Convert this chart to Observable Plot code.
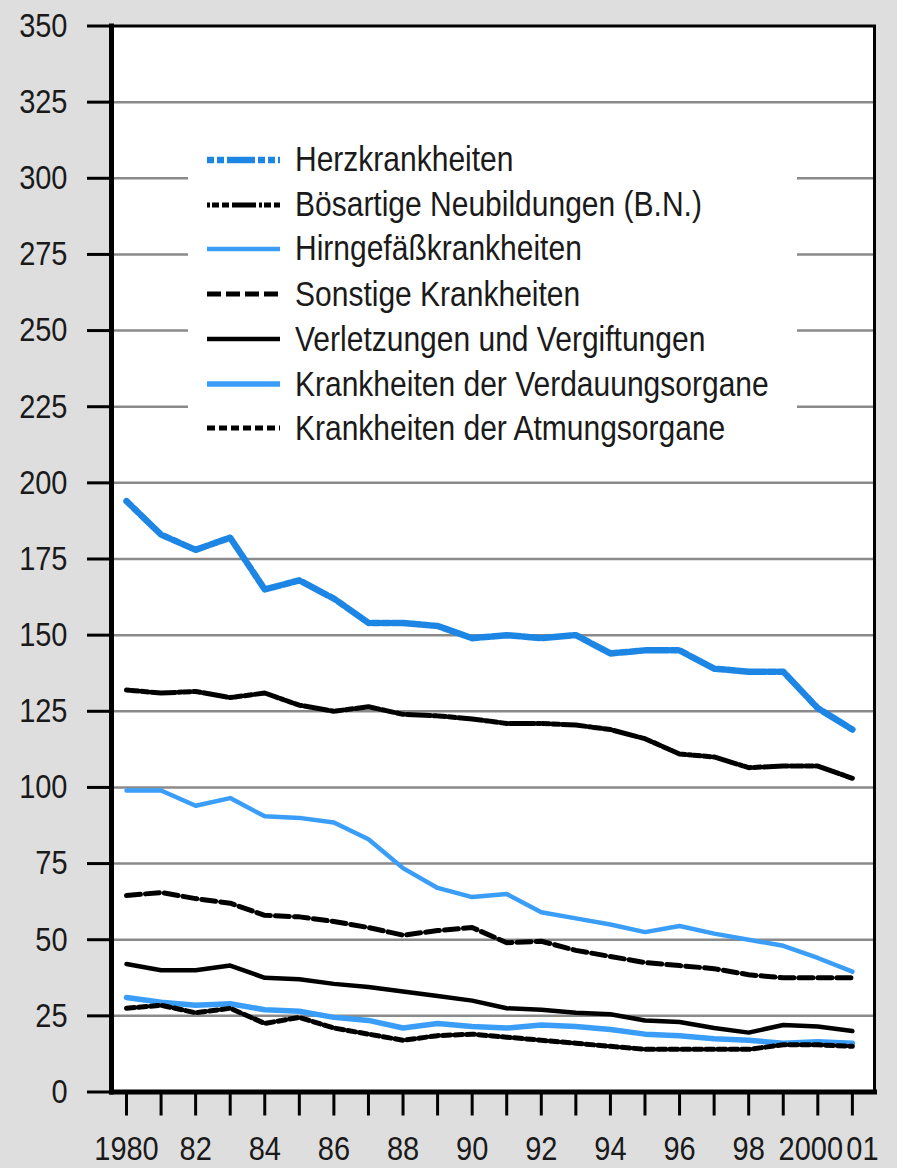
<!DOCTYPE html>
<html>
<head>
<meta charset="utf-8">
<script src="https://cdn.jsdelivr.net/npm/d3@7"></script>
<script src="https://cdn.jsdelivr.net/npm/@observablehq/plot@0.6"></script>
<style>
  html, body { margin: 0; padding: 0; background: #dedede; }
  #wrap { position: relative; width: 897px; height: 1168px; overflow: hidden; }
  #wrap > svg { position: absolute; left: 0; top: 0; }
  #legend { position: absolute; left: 188px; top: 126px; width: 609px; height: 332px; background: #fff; }
  .row { position: absolute; left: 0; height: 40px; display: flex; align-items: center; white-space: nowrap; }
  .row svg { display: block; margin-left: 19px; margin-right: 15px; flex: none; }
  .row span { display: inline-block; color: #1a1a1a; transform: scaleY(1.15); transform-origin: 50% 50%; }
</style>
</head>
<body>
<div id="wrap"></div>
<script>
// ---- data (deaths per 100 000) ----
const years = [1980,1981,1982,1983,1984,1985,1986,1987,1988,1989,1990,1991,1992,1993,1994,1995,1996,1997,1998,1999,2000,2001];
const xTickLabels = ["1980","","82","","84","","86","","88","","90","","92","","94","","96","","98","","2000","01"];
const yTicks = [0,25,50,75,100,125,150,175,200,225,250,275,300,325,350];

const seriesNames = [
  "Herzkrankheiten",
  "Bösartige Neubildungen (B.N.)",
  "Hirngefäßkrankheiten",
  "Sonstige Krankheiten",
  "Verletzungen und Vergiftungen",
  "Krankheiten der Verdauungsorgane",
  "Krankheiten der Atmungsorgane"
];
const herz      = [194,183,178,182,165,168,162,154,154,153,149,150,149,150,144,145,145,139,138,138,126,119];
const neubild   = [132,131,131.5,129.5,131,127,125,126.5,124,123.5,122.5,121,121,120.5,119,116,111,110,106.5,107,107,103];
const hirn      = [99,99,94,96.5,90.5,90,88.5,83,73.5,67,64,65,59,57,55,52.5,54.5,52,50,48,44,39.5];
const sonstige  = [64.5,65.5,63.5,62,58,57.5,56,54,51.5,53,54,49,49.5,46.5,44.5,42.5,41.5,40.5,38.5,37.5,37.5,37.5];
const verletz   = [42,40,40,41.5,37.5,37,35.5,34.5,33,31.5,30,27.5,27,26,25.5,23.5,23,21,19.5,22,21.5,20];
const verdau    = [31,29.5,28.5,29,27,26.5,24.5,23.5,21,22.5,21.5,21,22,21.5,20.5,19,18.5,17.5,17,16,16.5,16];
const atmung    = [27.5,28.5,26,27.5,22.5,24.5,21,19,17,18.5,19,18,17,16,15,14,14,14,14,15.5,15.5,15];

// ---- styles ----
const styles = [
  {stroke: "#1d86e4", width: 6.5, dash: "7,3,7,3,28,3"},
  {stroke: "#000000", width: 5,   dash: "3,2,7,3,7,3,24,3"},
  {stroke: "#3a9ef8", width: 4.5, dash: null},
  {stroke: "#000000", width: 5,   dash: "14,5"},
  {stroke: "#000000", width: 4.5, dash: null},
  {stroke: "#3a9ef8", width: 5.5, dash: null},
  {stroke: "#000000", width: 5,   dash: "8,4"}
];
const values = [herz, neubild, hirn, sonstige, verletz, verdau, atmung];

const font = {family: '"Liberation Sans", Arial, sans-serif', axis: 29, legend: 30};

// ---- build table ----
const rows = [];
seriesNames.forEach((name, i) => years.forEach((yr, j) => rows.push({series: name, year: yr, value: values[i][j]})));

const lineMarks = seriesNames.map((name, i) => Plot.line(rows.filter(d => d.series === name), {
  x: "year", y: "value",
  stroke: styles[i].stroke,
  strokeWidth: styles[i].width,
  strokeDasharray: styles[i].dash || undefined,
  strokeLinejoin: "round"
}));

const labelFor = y => xTickLabels[years.indexOf(y)];
const mainLabelYears = years.filter(y => y !== 2000 && y !== 2001);

const chart = Plot.plot({
  width: 897,
  height: 1168,
  marginLeft: 111,
  marginRight: 23,
  marginTop: 25.5,
  marginBottom: 76.5,
  x: {domain: [1979.566, 2001.64]},
  y: {domain: [0, 350]},
  style: {background: "transparent", fontFamily: font.family, fontSize: font.axis + "px", color: "#111"},
  marks: [
    Plot.frame({fill: "white", stroke: null}),
    Plot.gridY(yTicks.filter(v => v > 0 && v < 350), {stroke: "#8a8a8a", strokeOpacity: 1, strokeWidth: 2.5}),
    ...lineMarks,
    Plot.frame({stroke: "black", strokeWidth: 3}),
    Plot.frame({anchor: "left", stroke: "black", strokeWidth: 5}),
    Plot.frame({anchor: "bottom", stroke: "black", strokeWidth: 5}),
    Plot.axisY({ticks: yTicks, tickSize: 24, tickPadding: 20, strokeWidth: 3, stroke: "black", fill: "#1a1a1a", fontSize: font.axis, label: null}),
    Plot.axisX({ticks: years, tickSize: 24, tickPadding: 20, strokeWidth: 3, stroke: "black", fill: "#1a1a1a", fontSize: font.axis,
      tickFormat: y => mainLabelYears.includes(y) ? labelFor(y) : "", label: null}),
    Plot.axisX({ticks: [2000], tickSize: 0, tickPadding: 44, dx: -7, fill: "#1a1a1a", fontSize: font.axis, tickFormat: labelFor, label: null}),
    Plot.axisX({ticks: [2001], tickSize: 0, tickPadding: 44, dx: 10, fill: "#1a1a1a", fontSize: font.axis, tickFormat: labelFor, label: null})
  ]
});

const wrap = document.getElementById("wrap");
wrap.appendChild(chart);

// stretch axis label glyphs vertically around their anchor (reference type is taller than wide)
const S = 1.17;
chart.querySelectorAll("text").forEach(t => {
  const tr = t.getAttribute("transform") || "";
  const x = t.getAttribute("x"), y = t.getAttribute("y");
  if (x !== null || y !== null) {
    const px = +x || 0, py = +y || 0;
    t.setAttribute("transform", `${tr} translate(${px},${py}) scale(1,${S}) translate(${-px},${-py})`.trim());
  } else {
    t.setAttribute("transform", `${tr} scale(1,${S})`.trim());
  }
});

// ---- legend (HTML overlay with white box) ----
const legend = document.createElement("div");
legend.id = "legend";
legend.style.fontFamily = font.family;
legend.style.fontSize = font.legend + "px";
seriesNames.forEach((name, i) => {
  const row = document.createElement("div");
  row.className = "row";
  row.style.top = (34 + i * 44.7 - 20) + "px";
  const st = styles[i];
  row.innerHTML = `<svg width="73" height="12"><line x1="0" x2="73" y1="6" y2="6" stroke="${st.stroke}" stroke-width="${st.width}" ${st.dash ? `stroke-dasharray="${st.dash}"` : ""}/></svg><span>${name}</span>`;
  legend.appendChild(row);
});
wrap.appendChild(legend);
</script>
</body>
</html>
